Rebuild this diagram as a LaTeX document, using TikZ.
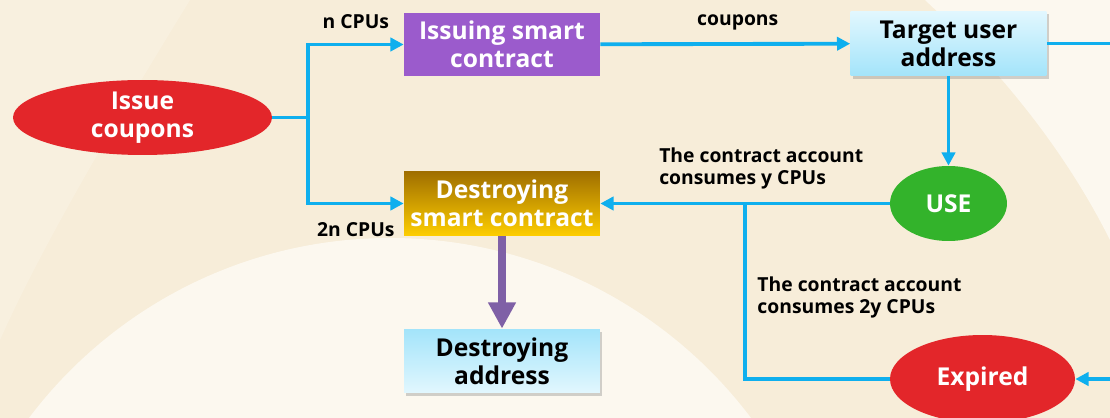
\documentclass[tikz,border=0pt]{standalone}
\usepackage{fontspec}
\setmainfont{Open Sans}
\usepackage{tikz}
\usetikzlibrary{arrows.meta,calc,positioning,shadows,shapes}
\definecolor{paper}{HTML}{F7EDD9}
\definecolor{paperlight}{HTML}{FCF8EF}
\definecolor{flowblue}{HTML}{0FAFEE}
\definecolor{couponred}{HTML}{E3262A}
\definecolor{issuepurple}{HTML}{9B5BCC}
\definecolor{usegreen}{HTML}{33B32B}
\definecolor{burnpurple}{HTML}{7F60A6}
\definecolor{goldtop}{HTML}{A06F00}
\definecolor{goldbottom}{HTML}{FDCD00}
\definecolor{skypale}{HTML}{E2F7FE}
\definecolor{skydeep}{HTML}{A3E4FA}
\tikzstyle{flow}=[
  color=flowblue,
  draw=flowblue,
  line width=2.2pt,
]
\tikzstyle{flowlabel}=[
  color=black,
  inner sep=0pt,
  align=left,
  font={\fontsize{11}{12.5}\selectfont\bfseries},
]
\tikzstyle{oval}=[
  ellipse,
  inner sep=0pt,
  text=white,
  align=center,
  font={\fontsize{14}{16}\selectfont\bfseries},
]
\tikzstyle{block}=[
  rectangle,
  minimum width=3.92cm,
  minimum height=1.27cm,
  inner sep=0pt,
  align=center,
  font={\fontsize{14}{16}\selectfont\bfseries},
]
\tikzstyle{raised}=[
  drop shadow={shadow xshift=1.2pt, shadow yshift=-1.5pt, opacity=.35},
]
\tikzstyle{burn}=[
  draw=burnpurple,
  line width=5pt,
  -{Triangle[length=15pt,width=15pt]},
]
\tikzset{
  >={Triangle[length=7.5pt,width=7.5pt]},
}

\begin{document}
\begin{tikzpicture}[x=0.02cm, y=-0.02cm]
  \useasboundingbox (0,0) rectangle (1110,418);
  \begin{scope}
    \clip (0,0) rectangle (1110,418);
    \fill [paper] (0,0) rectangle (1110,418);
    \fill [paperlight, opacity=.3] (0,0) -- (190,0)
      .. controls (110,130) and (40,250) .. (0,340) -- cycle;
    \fill [paperlight] (390,690) circle [radius=452];
    \fill [paperlight] (925,0) .. controls (1000,70) and (1065,150)
      .. (1110,240) -- (1110,0) -- cycle;
  \end{scope}

  \node [oval, fill=couponred, minimum width=5.18cm, minimum height=1.5cm]
    (issue) at (142.5,117.5) {Issue\\coupons};
  \node [block, fill=issuepurple, text=white]
    (issuing) at (502,44.5) {Issuing smart\\contract};
  \node [block, raised, top color=skypale, bottom color=skydeep,
    minimum height=1.3cm] (target) at (948.5,43.5) {Target user\\address};
  \node [oval, fill=usegreen, minimum width=2.34cm, minimum height=1.5cm]
    (use) at (948.5,203.5) {USE};
  \node [block, top color=goldtop, bottom color=goldbottom, text=white]
    (burning) at (502,203.5) {Destroying\\smart contract};
  \node [block, raised, top color=skydeep, bottom color=skypale,
    minimum height=1.28cm] (burnaddr) at (502,361) {Destroying\\address};
  \node [oval, fill=couponred, minimum width=3.7cm, minimum height=1.76cm]
    (expired) at (982.5,379) {Expired};

  \coordinate (fork) at (308,117.5);
  \coordinate (join) at (745,203.5);
  \coordinate (rim) at (1130,43.5);

  \draw [flow] (issue.east) -- (fork);
  \draw [->,flow] (fork)
    |- node [flowlabel, pos=.75, above=8pt] {n CPUs} (issuing.west);
  \draw [->,flow] (fork)
    |- node [flowlabel, pos=.75, below=10pt] {2n CPUs} (burning.west);
  \draw [->,flow] (issuing)
    -- node [flowlabel, pos=.55, above=7pt] {coupons} (target);
  \draw [->,flow] (target) -- (use);
  \draw [->,flow] (use.west)
    -- node [flowlabel, pos=.803, anchor=south west, yshift=7pt]
    {The contract account\\consumes y CPUs} (burning.east);
  \draw [flow] (expired.west)
    -| node [flowlabel, pos=.733, right=6pt]
    {The contract account\\consumes 2y CPUs} (join);
  \draw [->,flow] (target.east) -- (rim) |- (expired.east);
  \draw [burn] (burning) -- (burnaddr);
\end{tikzpicture}
\end{document}
